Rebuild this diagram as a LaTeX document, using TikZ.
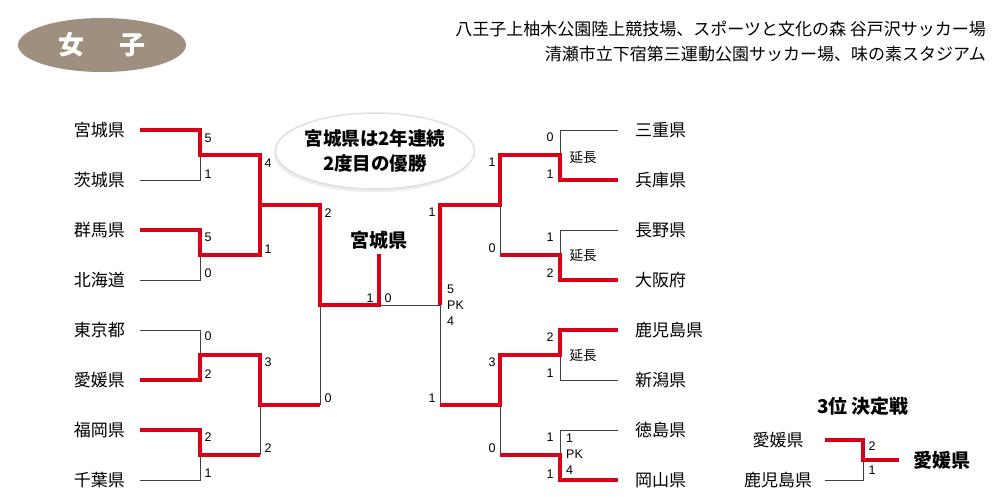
\documentclass[tikz,border=0pt]{standalone}
\usepackage{fontspec}
\setmainfont{Liberation Sans}
\newfontfamily\jp{Noto Sans CJK JP}
\usetikzlibrary{shapes.geometric,shadows}
\definecolor{winred}{RGB}{218,0,24}
\definecolor{taupe}{RGB}{158,143,127}

\begin{document}
\begin{tikzpicture}[x=1pt,y=-1pt,
    win/.style={draw=winred, line width=4pt, line join=miter},
    lose/.style={draw=black!75, line width=0.8pt},
    team/.style={font=\jp\fontsize{17}{18}\selectfont, inner sep=0pt},
    champ/.style={font=\jp\bfseries\fontsize{19}{20}\selectfont, inner sep=0pt},
    pts/.style={font=\fontsize{12.5}{16}\selectfont, inner sep=0pt},
    ext/.style={font=\jp\fontsize{13.5}{14}\selectfont, inner sep=0pt},
    venue/.style={font=\jp\fontsize{17}{17}\selectfont, inner sep=0pt, anchor=east},
    title/.style={ellipse, fill=taupe, minimum width=168pt, minimum height=54pt,
        text=white, font=\jp\bfseries\fontsize{26}{26}\selectfont, inner sep=0pt},
    bubble/.style={ellipse, minimum width=166pt, minimum height=76pt, fill=white,
        draw=black!12, line width=1.5pt,
        drop shadow={shadow xshift=-1.5pt, shadow yshift=-3pt, opacity=0.15},
        align=center, font=\jp\bfseries\fontsize{18.5}{25}\selectfont, inner sep=0pt}]

\useasboundingbox (0,0) rectangle (1000,502);

% heading
\node[title] (girls) at (102,45) {女\hspace{35pt}子};
\node[venue] (venue1) at (986,29) {八王子上柚木公園陸上競技場、スポーツと文化の森 谷戸沢サッカー場};
\node[venue] (venue2) at (986,54) {清瀬市立下宿第三運動公園サッカー場、味の素スタジアム};
\node[bubble] (note) at (375,151) {宮城県は2年連続\\2度目の優勝};

% teams, left half
\node[team, anchor=east] (miyagi) at (125,130) {宮城県};
\node[team, anchor=east] (ibaraki) at (125,180) {茨城県};
\node[team, anchor=east] (gunma) at (125,230) {群馬県};
\node[team, anchor=east] (hokkaido) at (125,280) {北海道};
\node[team, anchor=east] (tokyo) at (125,330) {東京都};
\node[team, anchor=east] (ehime) at (125,380) {愛媛県};
\node[team, anchor=east] (fukuoka) at (125,430) {福岡県};
\node[team, anchor=east] (chiba) at (125,480) {千葉県};

% teams, right half
\node[team, anchor=west] (mie) at (635,130) {三重県};
\node[team, anchor=west] (hyogo) at (635,180) {兵庫県};
\node[team, anchor=west] (nagano) at (635,230) {長野県};
\node[team, anchor=west] (osaka) at (635,280) {大阪府};
\node[team, anchor=west] (kagoshima) at (635,330) {鹿児島県};
\node[team, anchor=west] (niigata) at (635,380) {新潟県};
\node[team, anchor=west] (tokushima) at (635,430) {徳島県};
\node[team, anchor=west] (okayama) at (635,480) {岡山県};

\node[champ] (champion) at (379,240) {宮城県};

% losing lines
\draw[lose] ([xshift=15pt]ibaraki.east) -| (200,155);
\draw[lose] ([xshift=15pt]hokkaido.east) -| (200,255);
\draw[lose] ([xshift=15pt]tokyo.east) -| (200,355);
\draw[lose] ([xshift=15pt]chiba.east) -| (200,455);
\draw[lose] (260,455) -- (260,405)
    (320,405) -- (320,305);
\draw[lose] ([xshift=-17pt]mie.west) -| (560,155);
\draw[lose] ([xshift=-17pt]nagano.west) -| (560,255);
\draw[lose] ([xshift=-17pt]niigata.west) -| (560,355);
\draw[lose] ([xshift=-17pt]tokushima.west) -| (560,455);
\draw[lose] (500,255) -- (500,205)
    (500,455) -- (500,405);
\draw[lose] (440,405) -- (440,305) -- (380,305);

% winning lines
\draw[win] ([xshift=15pt]miyagi.east) -| (200,155) -| (260,205) -| (320,305) -| ([yshift=-5pt]champion.south);
\draw[win] ([xshift=15pt]gunma.east) -| (200,255) -| (260,205);
\draw[win] ([xshift=15pt]ehime.east) -| (200,355) -| (260,405) -- (320,405);
\draw[win] ([xshift=15pt]fukuoka.east) -| (200,455) -- (260,455);
\draw[win] ([xshift=-17pt]hyogo.west) -| (560,155) -| (500,205) -| (440,305);
\draw[win] ([xshift=-17pt]osaka.west) -| (560,255) -- (500,255);
\draw[win] ([xshift=-17pt]kagoshima.west) -| (560,355) -| (500,405) -- (440,405);
\draw[win] ([xshift=-17pt]okayama.west) -| (560,455) -- (500,455);

% scores, left half
\node[pts] (l1) at (208,138) {5};
\node[pts] (l2) at (208,174) {1};
\node[pts] (l3) at (208,237) {5};
\node[pts] (l4) at (208,273) {0};
\node[pts] (l5) at (208,336) {0};
\node[pts] (l6) at (208,374) {2};
\node[pts] (l7) at (208,437) {2};
\node[pts] (l8) at (208,473) {1};
\node[pts] (lq1) at (268,163) {4};
\node[pts] (lq2) at (268,249) {1};
\node[pts] (lq3) at (268,362) {3};
\node[pts] (lq4) at (268,448) {2};
\node[pts] (ls1) at (328,213) {2};
\node[pts] (ls2) at (328,398) {0};
\node[pts] (fin1) at (370,298) {1};
\node[pts] (fin2) at (388,298) {0};

% scores, right half
\node[pts] (r1) at (550,137) {0};
\node[pts] (r2) at (550,174) {1};
\node[pts] (r3) at (550,237) {1};
\node[pts] (r4) at (550,273) {2};
\node[pts] (r5) at (550,337) {2};
\node[pts] (r6) at (550,373) {1};
\node[pts] (r7) at (550,437) {1};
\node[pts] (r8) at (550,474) {1};
\node[ext] (et1) at (583,157) {延長};
\node[ext] (et2) at (583,255) {延長};
\node[ext] (et3) at (583,355) {延長};
\node[pts, align=left, anchor=west] (pk2) at (566,454) {1\\PK\\4};
\node[pts] (rq1) at (492,162) {1};
\node[pts] (rq2) at (492,248) {0};
\node[pts] (rq3) at (492,362) {3};
\node[pts] (rq4) at (492,448) {0};
\node[pts] (rs1) at (432,212) {1};
\node[pts] (rs2) at (432,398) {1};
\node[pts, align=left, anchor=west] (pk1) at (447,305) {5\\PK\\4};

% third place
\node[champ] (third) at (863,406) {3位 決定戦};
\node[team] (ehimeA) at (778,440) {愛媛県};
\node[team] (kagoshimaA) at (778,480) {鹿児島県};
\node[champ] (bronze) at (942,460) {愛媛県};
\draw[lose] ([xshift=13pt]kagoshimaA.east) -| (863,460);
\draw[win] ([xshift=21pt]ehimeA.east) -| (863,460) -- ([xshift=-14pt]bronze.west);
\node[pts] (b1) at (872,446) {2};
\node[pts] (b2) at (872,470) {1};

\end{tikzpicture}
\end{document}
